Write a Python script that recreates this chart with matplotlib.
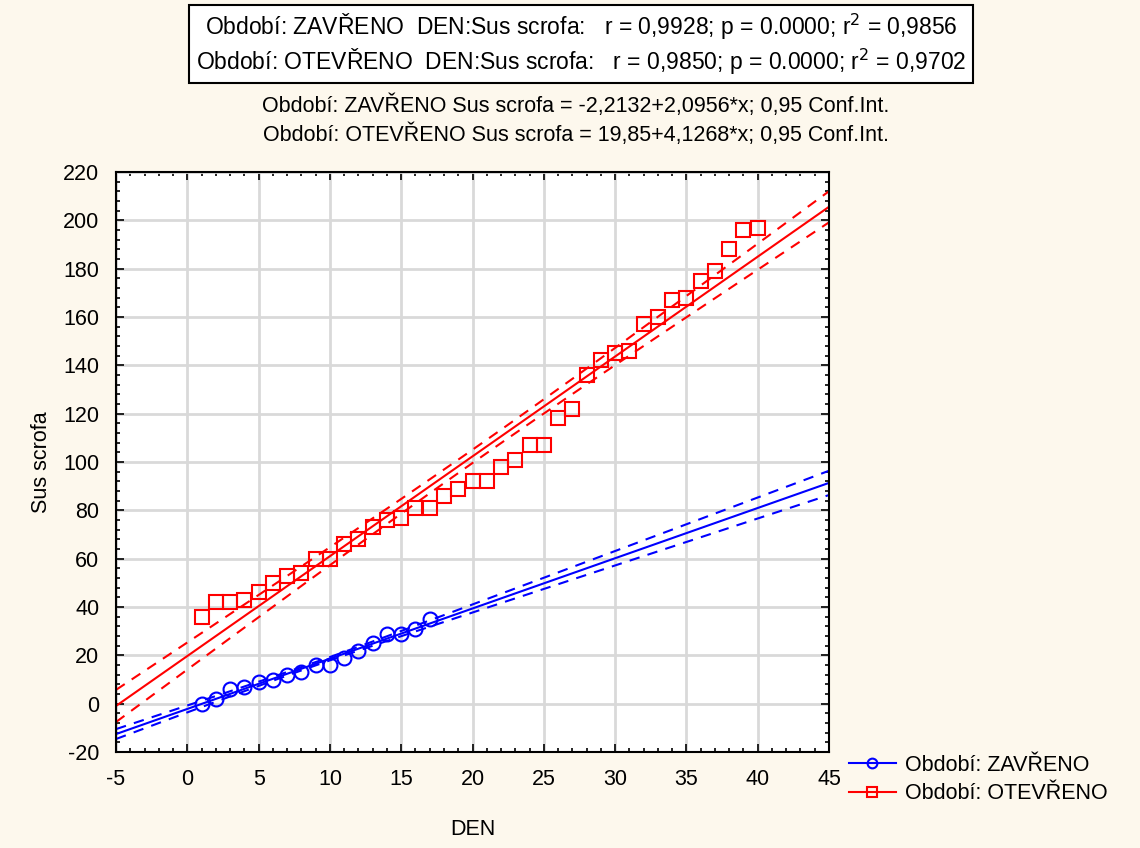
import matplotlib
matplotlib.use("Agg")
import matplotlib.pyplot as plt
import numpy as np
from matplotlib.ticker import MultipleLocator

plt.rcParams['font.family'] = ['Liberation Sans', 'DejaVu Sans']
plt.rcParams['axes.unicode_minus'] = False

# data
den_zav = np.arange(1, 18)
sus_zav = [0, 2, 6, 7, 9, 10, 12, 13, 16, 16, 19, 22, 25, 29, 29, 31, 35]

den_ote = np.arange(1, 41)
sus_ote = [36, 42, 42, 43, 46, 50, 53, 54, 60, 60,
           66, 68, 73, 76, 77, 81, 81, 86, 89, 92,
           92, 98, 101, 107, 107, 118, 122, 136, 142, 145,
           146, 157, 160, 167, 168, 175, 179, 188, 196, 197]

label_zav = "Období: ZAVŘENO"
label_ote = "Období: OTEVŘENO"
stats_lines = [
    "Období: ZAVŘENO  DEN:Sus scrofa:   r = 0,9928; p = 0.0000; r$^2$ = 0,9856",
    "Období: OTEVŘENO  DEN:Sus scrofa:   r = 0,9850; p = 0.0000; r$^2$ = 0,9702",
]
eq_lines = [
    "Období: ZAVŘENO Sus scrofa = -2,2132+2,0956*x; 0,95 Conf.Int.",
    "Období: OTEVŘENO Sus scrofa = 19,85+4,1268*x; 0,95 Conf.Int.",
]
t_crit = {15: 2.1314, 38: 2.0244}  # t(0.975, df)


def fit_band(x, y, xs):
    x = np.asarray(x, float)
    y = np.asarray(y, float)
    b, a = np.polyfit(x, y, 1)
    n = len(x)
    resid = y - (a + b * x)
    s = np.sqrt(np.sum(resid ** 2) / (n - 2))
    sxx = np.sum((x - x.mean()) ** 2)
    yhat = a + b * xs
    half = t_crit[n - 2] * s * np.sqrt(1.0 / n + (xs - x.mean()) ** 2 / sxx)
    return yhat, yhat - half, yhat + half


fs = 15.5
bg = "#fdf8ed"
fig = plt.figure(figsize=(11.4, 8.48), dpi=100, facecolor=bg)
ax = fig.add_axes([0.1018, 0.1132, 0.6254, 0.684])
ax.set_facecolor("white")

xs = np.linspace(-5, 45, 200)
for x, y, col, mk, lab in [(den_zav, sus_zav, "blue", "o", label_zav),
                           (den_ote, sus_ote, "red", "s", label_ote)]:
    yhat, lo, hi = fit_band(x, y, xs)
    ax.plot(xs, yhat, color=col, lw=1.5)
    ax.plot(xs, lo, color=col, lw=1.5, ls=(0, (5, 4)))
    ax.plot(xs, hi, color=col, lw=1.5, ls=(0, (5, 4)))
    ax.plot(x, y, ls="none", marker=mk, ms=10, mfc="none", mec=col, mew=1.5)
    ax.plot([], [], color=col, lw=1.5, marker=mk, ms=7, mfc="none",
            mec=col, mew=1.5, label=lab)

ax.set_xlim(-5, 45)
ax.set_ylim(-20, 220)
ax.xaxis.set_major_locator(MultipleLocator(5))
ax.xaxis.set_minor_locator(MultipleLocator(1))
ax.yaxis.set_major_locator(MultipleLocator(20))
ax.yaxis.set_minor_locator(MultipleLocator(4))
ax.tick_params(which="both", direction="in", top=True, right=True,
               labelsize=fs, width=1.2)
ax.tick_params(which="major", length=6, pad=12)
ax.tick_params(which="minor", length=3)
ax.grid(True, color="#d9d9d9", lw=2)
ax.set_axisbelow(True)
for sp in ax.spines.values():
    sp.set_linewidth(1.5)

ax.set_xlabel("DEN", fontsize=fs, labelpad=21)
ax.set_ylabel("Sus scrofa", fontsize=fs, labelpad=8)

leg = fig.legend(loc="upper left", bbox_to_anchor=(0.737, 0.12), frameon=False,
                 fontsize=fs, handlelength=2.2, handletextpad=0.4,
                 labelspacing=0.35, borderaxespad=0)

fig.text(0.51, 0.948, stats_lines[0] + "\n" + stats_lines[1], ha="center", va="center",
         fontsize=16.5, linespacing=1.2,
         bbox=dict(facecolor="white", edgecolor="black", lw=1.5, boxstyle="square,pad=0.3"))
fig.text(0.505, 0.875, eq_lines[0], ha="center", va="center", fontsize=fs)
fig.text(0.505, 0.841, eq_lines[1], ha="center", va="center", fontsize=fs)

fig.savefig("out.png", dpi=100, facecolor=bg)
